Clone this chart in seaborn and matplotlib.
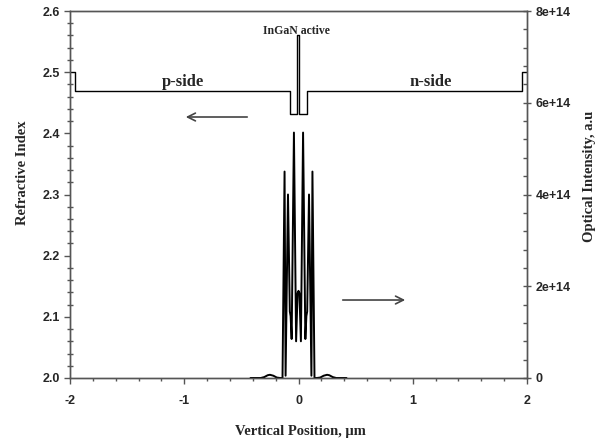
import matplotlib
matplotlib.use("Agg")
import matplotlib.pyplot as plt
import seaborn as sns
from matplotlib.ticker import MultipleLocator, FormatStrFormatter, FuncFormatter

# refractive index profile (step structure)
index_pos = [-2.0, -1.956, -1.956, -0.074, -0.074, -0.012, -0.012, 0.008, 0.008,
             0.077, 0.077, 1.953, 1.953, 2.0]
index_val = [2.50, 2.50, 2.47, 2.47, 2.432, 2.432, 2.56, 2.56, 2.432,
             2.432, 2.47, 2.47, 2.50, 2.50]

# optical intensity (units of 1e14)
intens_pos = [-0.42, -0.33, -0.30, -0.27, -0.25, -0.22, -0.19, -0.16, -0.14,
              -0.122, -0.113, -0.092, -0.076, -0.069, -0.060, -0.040, -0.021,
              -0.008, 0.0, 0.008, 0.021, 0.040, 0.060, 0.069, 0.076, 0.092,
              0.113, 0.122, 0.14, 0.16, 0.19, 0.22, 0.25, 0.27, 0.30, 0.33, 0.42]
intens_val = [0.0, 0.0, 0.02, 0.06, 0.07, 0.05, 0.01, 0.0, 0.0,
              4.5, 0.05, 4.0, 1.45, 1.35, 0.85, 5.35, 0.8,
              1.85, 1.9, 1.85, 0.8, 5.35, 0.85, 1.35, 1.45, 4.0,
              0.05, 4.5, 0.0, 0.0, 0.01, 0.05, 0.07, 0.06, 0.02, 0.0, 0.0]
intens_val = [v * 1e14 for v in intens_val]

sns.set_style("ticks")
plt.rcParams['axes.unicode_minus'] = False
plt.rcParams['font.family'] = ['Liberation Sans', 'DejaVu Sans']
serif = ['Liberation Serif', 'DejaVu Serif']
frame = '#555555'

fig = plt.figure(figsize=(6.12, 4.46), dpi=100)
ax = fig.add_axes([70 / 612, 1 - 378 / 446, 457 / 612, 367 / 446])
ax2 = ax.twinx()

sns.lineplot(x=index_pos, y=index_val, ax=ax, sort=False, estimator=None,
             color='black', lw=1.0)
sns.lineplot(x=intens_pos, y=intens_val, ax=ax2, sort=False, estimator=None,
             color='black', lw=1.4)

ax.set_xlim(-2, 2)
ax.set_ylim(2.0, 2.6)
ax2.set_ylim(0, 8e14)

ax.xaxis.set_major_locator(MultipleLocator(1))
ax.xaxis.set_minor_locator(MultipleLocator(0.2))
ax.yaxis.set_major_locator(MultipleLocator(0.1))
ax.yaxis.set_minor_locator(MultipleLocator(0.02))
ax.yaxis.set_major_formatter(FormatStrFormatter('%.1f'))
ax2.yaxis.set_major_locator(MultipleLocator(2e14))
ax2.yaxis.set_minor_locator(MultipleLocator(4e13))
ax2.yaxis.set_major_formatter(FuncFormatter(lambda v, p: '0' if v == 0 else f'{v:.0e}'))

for a in (ax, ax2):
    for s in a.spines.values():
        s.set_visible(True)
        s.set_color(frame)
        s.set_linewidth(1.0)
    a.set_xlabel('')
    a.set_ylabel('')

ax.tick_params(axis='x', which='major', direction='out', length=4, width=1,
               color=frame, labelsize=9, pad=8, top=False)
ax.tick_params(axis='x', which='minor', direction='out', length=2.5, width=1,
               color=frame, top=False)
ax.tick_params(axis='y', which='major', direction='out', length=4, width=1,
               color=frame, labelsize=9, pad=3)
ax.tick_params(axis='y', which='minor', direction='inout', length=4, width=1,
               color=frame)
ax2.tick_params(axis='y', which='major', direction='inout', length=6, width=1,
                color=frame, labelsize=9, pad=3)
ax2.tick_params(axis='y', which='minor', direction='in', length=3, width=1,
                color=frame)
for lab in ax.get_xticklabels() + ax.get_yticklabels() + ax2.get_yticklabels():
    lab.set_fontweight('bold')

fig.text(300 / 612, 1 - 432 / 446, 'Vertical Position, \u00b5m', family=serif,
         fontsize=10.5, fontweight='bold', ha='center', va='center')
fig.text(23 / 612, 1 - 173 / 446, 'Refractive Index', family=serif,
         fontsize=10.5, fontweight='bold', ha='center', va='center', rotation=90)
fig.text(590 / 612, 1 - 176 / 446, 'Optical Intensity, a.u', family=serif,
         fontsize=10.5, fontweight='bold', ha='center', va='center', rotation=90)

ax.text(-1.011, 2.4774, 'p-side', family=serif, fontsize=12, fontweight='bold',
        ha='center', va='baseline')
ax.text(1.155, 2.4774, 'n-side', family=serif, fontsize=12, fontweight='bold',
        ha='center', va='baseline')
ax.text(-0.022, 2.5616, 'InGaN active', family=serif, fontsize=8.5, fontweight='bold',
        ha='center', va='baseline')

ax.annotate('', xy=(-1.011, 2.4267), xytext=(-0.4245, 2.4267),
            arrowprops=dict(arrowstyle='->', color='#444444', lw=1.2,
                            mutation_scale=14))
ax.annotate('', xy=(0.958, 2.1275), xytext=(0.363, 2.1275),
            arrowprops=dict(arrowstyle='->', color='#444444', lw=1.2,
                            mutation_scale=14))

fig.savefig('out.png', dpi=100)
